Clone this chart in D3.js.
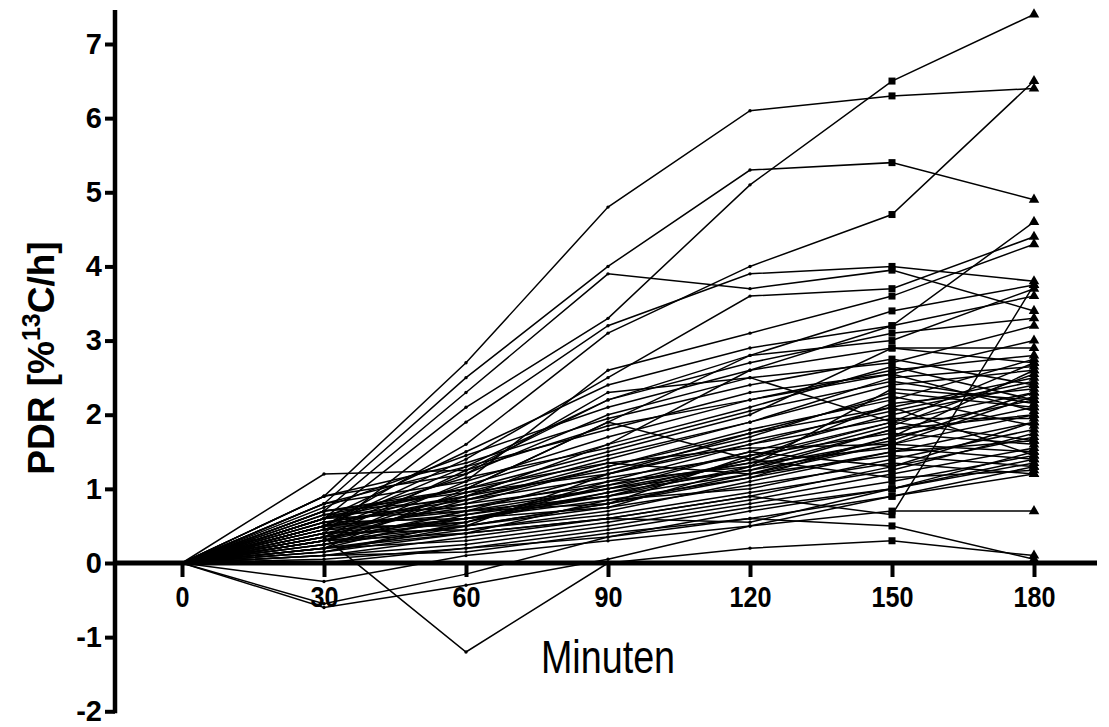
<!DOCTYPE html>
<html>
<head>
<meta charset="utf-8">
<script src="https://cdn.jsdelivr.net/npm/d3@7"></script>
<style>
  html, body { margin: 0; padding: 0; background: #fff; }
  svg { display: block; }
</style>
</head>
<body>
<svg id="chart" width="1109" height="727"></svg>
<script>
// ---- data ----
const minutes = [0, 30, 60, 90, 120, 150, 180];
const xTickLabels = ["0", "30", "60", "90", "120", "150", "180"];
const yTickValues = [-2, -1, 0, 1, 2, 3, 4, 5, 6, 7];
const yTickLabels = ["-2", "-1", "0", "1", "2", "3", "4", "5", "6", "7"];
const xTitle = "Minuten";

// PDR per patient at 0,30,60,90,120,150,180 min
const upperCurves = [
  [0, 0.9, 2.7, 4.8, 6.1, 6.3, 6.4],
  [0, 0.6, 2.1, 3.3, 5.1, 6.5, 7.4],
  [0, 0.8, 2.5, 4.0, 5.3, 5.4, 4.9],
  [0, 0.5, 1.6, 3.1, 4.0, 4.7, 6.5],
  [0, 0.7, 2.3, 3.9, 3.7, 3.95, 3.4],
  [0, 0.4, 1.9, 3.2, 3.9, 4.0, 3.8],
  [0, 0.5, 1.4, 2.5, 3.6, 3.7, 4.4],
  [0, 0.3, 1.1, 2.6, 3.1, 3.6, 4.3],
  [0, 0.6, 1.5, 2.4, 2.9, 3.2, 4.6],
  [0, 0.2, 1.0, 1.9, 2.8, 3.4, 3.75],
  [0, 1.2, 1.25, 2.2, 2.7, 3.1, 3.3],
  [0, 0.5, 1.3, 2.2, 2.8, 3.0, 3.7],
  [0, 0.3, 0.9, 1.6, 2.6, 3.2, 3.6]
];
const middleCurves = [
  [0, 0.9, 1.2, 2.0, 2.5, 2.7, 3.2],
  [0, 0.8, 1.1, 1.7, 2.2, 2.6, 2.8],
  [0, 0.7, 1.0, 1.5, 2.0, 2.9, 2.7],
  [0, 0.6, 0.9, 1.4, 1.9, 2.4, 2.6],
  [0, 0.55, 0.8, 1.3, 1.8, 2.2, 2.75],
  [0, 0.5, 0.7, 1.2, 1.6, 2.1, 2.5],
  [0, 0.45, 0.75, 1.0, 1.5, 2.0, 2.4],
  [0, 0.4, 0.6, 0.9, 1.4, 1.9, 2.3],
  [0, 0.35, 0.55, 1.1, 1.3, 1.8, 2.2],
  [0, 0.3, 0.5, 0.8, 1.2, 1.7, 2.1],
  [0, 0.25, 0.6, 0.95, 1.25, 1.6, 2.0],
  [0, 0.2, 0.45, 0.7, 1.1, 1.5, 1.9],
  [0, 0.15, 0.4, 0.85, 1.0, 1.4, 1.8],
  [0, 0.1, 0.35, 0.6, 0.9, 1.3, 1.7],
  [0, 0.5, 0.9, 1.25, 1.7, 2.3, 2.1],
  [0, 0.6, 1.0, 1.35, 1.55, 1.6, 1.5],
  [0, 0.7, 0.85, 1.15, 1.45, 1.75, 1.6],
  [0, 0.4, 0.8, 1.05, 1.35, 1.55, 1.4],
  [0, 0.3, 0.7, 0.9, 1.2, 1.45, 1.3],
  [0, 0.2, 0.65, 1.0, 1.35, 1.85, 2.55],
  [0, 0.35, 0.95, 1.45, 1.9, 2.5, 2.65],
  [0, 0.45, 1.05, 1.6, 2.1, 2.65, 2.2],
  [0, 0.55, 0.6, 0.75, 1.05, 1.35, 1.2],
  [0, 0.65, 0.75, 1.1, 1.6, 1.95, 1.95],
  [0, 0.25, 0.5, 1.2, 1.65, 2.05, 2.45],
  [0, 0.15, 0.55, 0.95, 1.4, 2.15, 2.35],
  [0, 0.3, 0.85, 1.3, 1.75, 2.25, 1.85],
  [0, 0.8, 1.3, 1.8, 2.3, 2.55, 2.05],
  [0, 0.6, 1.15, 1.55, 2.05, 2.45, 2.15],
  [0, 0.4, 0.45, 0.65, 0.95, 1.25, 1.75],
  [0, 0.5, 0.5, 0.8, 1.15, 1.7, 2.6],
  [0, 0.2, 0.3, 0.55, 0.85, 1.2, 1.55],
  [0, 0.1, 0.25, 0.5, 0.8, 1.1, 1.45],
  [0, 0.05, 0.2, 0.45, 0.75, 1.0, 1.35],
  [0, 0.9, 1.35, 1.95, 2.4, 2.75, 2.4],
  [0, 0.75, 1.45, 2.1, 2.6, 2.9, 2.9],
  [0, 0.35, 1.25, 1.85, 2.2, 2.55, 3.0],
  [0, 0.45, 1.2, 2.3, 2.5, 1.9, 1.65],
  [0, 0.65, 1.0, 1.9, 1.4, 1.15, 1.25],
  [0, 0.1, 0.15, 0.4, 0.6, 0.9, 1.3],
  [0, 0.3, 0.4, 0.6, 0.55, 1.0, 1.4],
  [0, 0.5, 0.65, 0.9, 1.3, 1.65, 2.3],
  [0, 0.35, 0.6, 0.85, 1.15, 1.5, 1.65],
  [0, 0.6, 0.7, 1.0, 1.25, 1.8, 2.0],
  [0, 0.25, 0.7, 0.8, 1.45, 1.9, 2.7],
  [0, 0.45, 0.55, 1.05, 1.5, 1.3, 1.9],
  [0, 0.15, 0.5, 0.75, 1.3, 2.35, 2.2],
  [0, 0.7, 0.95, 1.2, 1.75, 2.1, 1.45],
  [0, 0.55, 0.85, 1.35, 1.2, 1.6, 2.25]
];
const lowerCurves = [
  [0, 0.35, -1.2, 0.0, 0.2, 0.3, 0.1],
  [0, -0.6, -0.3, 0.05, 0.5, 0.7, 0.7],
  [0, -0.55, -0.15, 0.35, 0.6, 0.5, 0.05],
  [0, -0.25, 0.1, 0.3, 0.5, 0.9, 1.2],
  [0, 0.0, 0.2, 0.35, 0.7, 1.0, 1.5],
  [0, 0.2, 0.4, 0.6, 0.9, 0.65, 3.75]
];

const allCurves = upperCurves.concat(middleCurves, lowerCurves);

// ---- drawing ----
const FONT = "Liberation Sans, Arial, Helvetica, sans-serif";
const svg = d3.select("#chart");
const x = d3.scaleLinear().domain([0, 180]).range([182, 1034]);
const y = d3.scaleLinear().domain([0, 7]).range([563, 44]);

const line = d3.line().x((d, i) => x(minutes[i])).y(d => y(d));

const g = svg.append("g");
g.selectAll("path.curve")
  .data(allCurves)
  .join("path")
  .attr("class", "curve")
  .attr("d", line)
  .attr("fill", "none")
  .attr("stroke", "#000")
  .attr("stroke-width", 1.5);

// markers
const pts = [];
allCurves.forEach(c => c.forEach((v, i) => pts.push({ t: minutes[i], v })));
g.selectAll("circle.dot")
  .data(pts.filter(p => p.t > 0 && p.t < 150))
  .join("circle")
  .attr("cx", d => x(d.t)).attr("cy", d => y(d.v)).attr("r", 1.7).attr("fill", "#000");
g.selectAll("rect.sq")
  .data(pts.filter(p => p.t === 150))
  .join("rect")
  .attr("x", d => x(d.t) - 3.5).attr("y", d => y(d.v) - 3.5)
  .attr("width", 7).attr("height", 7).attr("fill", "#000");
g.selectAll("path.tri")
  .data(pts.filter(p => p.t === 180))
  .join("path")
  .attr("d", d3.symbol().type(d3.symbolTriangle).size(48))
  .attr("transform", d => `translate(${x(d.t)},${y(d.v)})`)
  .attr("fill", "#000");

// axes
const yAxis = d3.axisLeft(y).tickValues(yTickValues).tickSize(10).tickPadding(3)
  .tickFormat((d, i) => yTickLabels[i]);
const ya = svg.append("g").attr("transform", "translate(115,0)").call(yAxis);
ya.select(".domain").remove();
ya.selectAll(".tick line").attr("stroke", "#000").attr("stroke-width", 4);
ya.selectAll(".tick text")
  .attr("font-family", FONT)
  .attr("font-weight", "bold").attr("font-size", 29).attr("fill", "#000");
svg.append("line")
  .attr("x1", 115).attr("x2", 115).attr("y1", y(7.46)).attr("y2", y(-2) + 2)
  .attr("stroke", "#000").attr("stroke-width", 4.5);

const xAxis = d3.axisBottom(x).tickValues(minutes).tickSize(14).tickPadding(9)
  .tickFormat((d, i) => xTickLabels[i]);
const xa = svg.append("g").attr("transform", "translate(0,563)").call(xAxis);
xa.select(".domain").remove();
xa.selectAll(".tick line").attr("stroke", "#000").attr("stroke-width", 4);
xa.selectAll(".tick text")
  .attr("font-family", FONT)
  .attr("font-weight", "bold").attr("font-size", 30).attr("fill", "#000")
  .attr("transform", "scale(0.84,1)");
svg.append("line")
  .attr("x1", 113).attr("x2", 1097).attr("y1", 563).attr("y2", 563)
  .attr("stroke", "#000").attr("stroke-width", 5);

// titles
svg.append("text")
  .attr("transform", "translate(608,673) scale(0.82,1)")
  .attr("text-anchor", "middle")
  .attr("font-family", FONT)
  .attr("font-size", 46).attr("fill", "#000")
  .text(xTitle);

const yt = svg.append("text")
  .attr("transform", "translate(54,358) rotate(-90)")
  .attr("text-anchor", "middle")
  .attr("font-family", FONT)
  .attr("font-weight", "bold").attr("font-size", 37).attr("fill", "#000");
yt.append("tspan").text("PDR [%");
yt.append("tspan").attr("font-size", 25).attr("dy", -14).text("13");
yt.append("tspan").attr("dy", 14).text("C/h]");
</script>
</body>
</html>
